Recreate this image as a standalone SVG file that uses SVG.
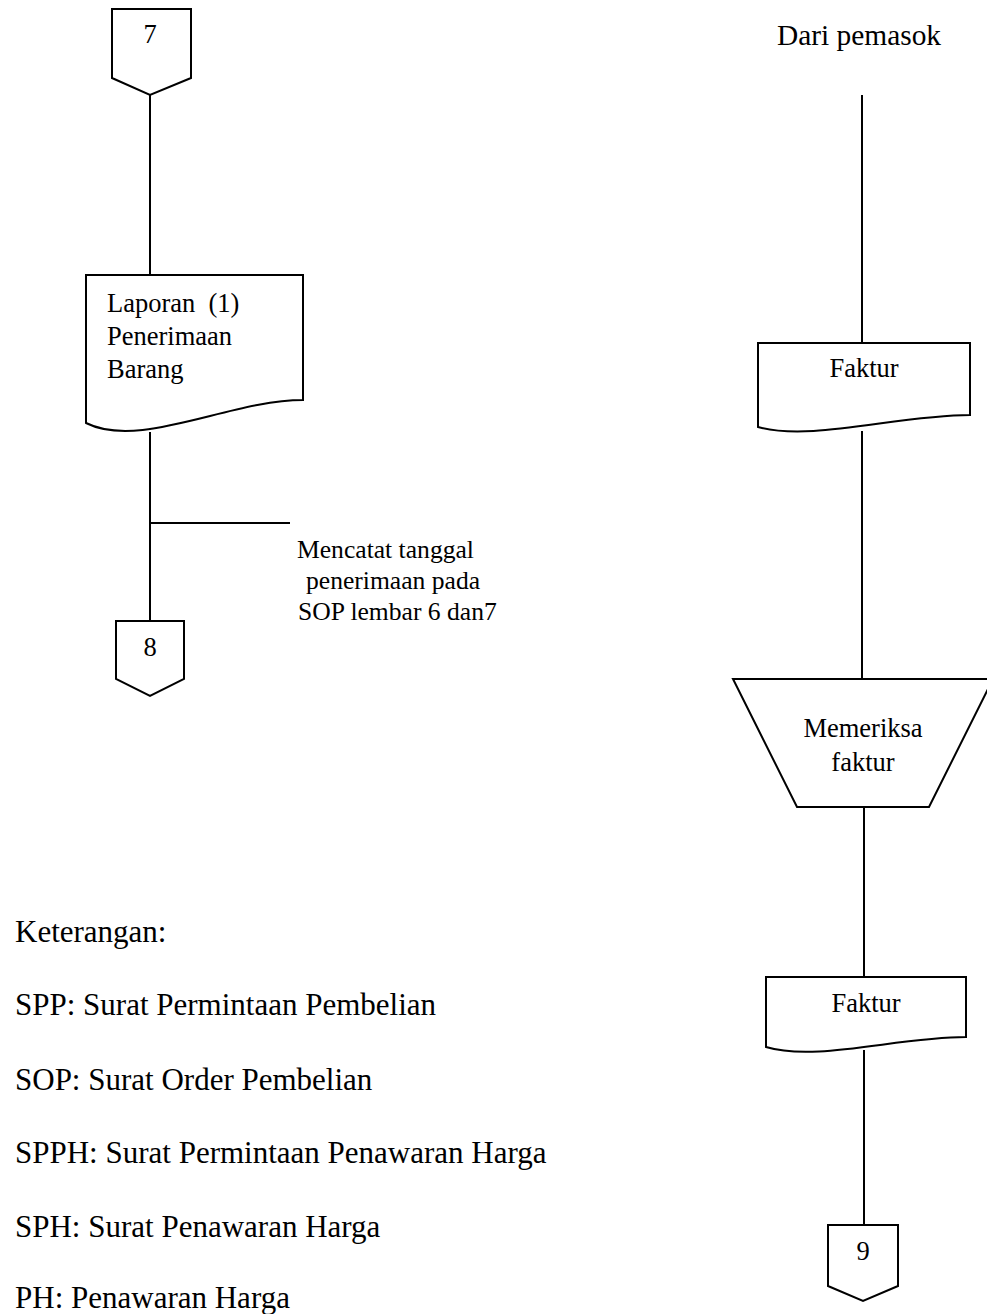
<svg xmlns="http://www.w3.org/2000/svg" width="987" height="1314" viewBox="0 0 987 1314">
  <style>
    .shape { fill: #ffffff; stroke: #000000; stroke-width: 2; stroke-linejoin: miter; }
    .line { fill: none; stroke: #000000; stroke-width: 2; }
    .t { font-family: "Liberation Serif", "Times New Roman", serif; fill: #000000; }
    .box { font-size: 26.5px; }
    .note { font-size: 25.6px; }
    .legend { font-size: 31px; }
    .mid { text-anchor: middle; }
  </style>
  <rect width="987" height="1314" fill="#ffffff"/>

  <!-- flow lines -->
  <g id="connectors">
    <line class="line" x1="150" y1="88" x2="150" y2="275"/>
    <line class="line" x1="150" y1="432" x2="150" y2="621"/>
    <line class="line" x1="150" y1="523" x2="290" y2="523"/>
    <line class="line" x1="862" y1="95" x2="862" y2="343"/>
    <line class="line" x1="862" y1="431" x2="862" y2="679"/>
    <line class="line" x1="864" y1="807" x2="864" y2="977"/>
    <line class="line" x1="864" y1="1050" x2="864" y2="1225"/>
  </g>

  <!-- off-page connector 7 -->
  <g id="conn-7">
    <polygon class="shape" points="112,9 191,9 191,78 150,95 112,78"/>
    <text class="t box mid" x="150" y="43">7</text>
  </g>

  <!-- document: Laporan Penerimaan Barang -->
  <g id="doc-laporan">
    <path class="shape" d="M86,275 H303 V400 C230,400 140,450 86,423 Z"/>
    <text class="t box" x="107" y="312">Laporan&#160; (1)</text>
    <text class="t box" x="107" y="345">Penerimaan</text>
    <text class="t box" x="107" y="378">Barang</text>
  </g>

  <!-- annotation on the branch line -->
  <g id="note-mencatat">
    <text class="t note" x="297" y="558">Mencatat tanggal</text>
    <text class="t note" x="306" y="589">penerimaan pada</text>
    <text class="t note" x="298" y="620">SOP lembar 6 dan7</text>
  </g>

  <!-- off-page connector 8 -->
  <g id="conn-8">
    <polygon class="shape" points="116,621 184,621 184,679 150,696 116,679"/>
    <text class="t box mid" x="150" y="656">8</text>
  </g>

  <!-- source label -->
  <g id="label-pemasok">
    <text class="t" font-size="29.4" x="777" y="45">Dari pemasok</text>
  </g>

  <!-- document: Faktur (from supplier) -->
  <g id="doc-faktur-1">
    <path class="shape" d="M758,343 H970 V415 C898,415 811,442 758,427 Z"/>
    <text class="t box mid" x="864" y="377">Faktur</text>
  </g>

  <!-- manual operation: Memeriksa faktur -->
  <g id="op-memeriksa">
    <polygon class="shape" points="733,679 993,679 929,807 797,807"/>
    <text class="t box mid" x="863" y="737">Memeriksa</text>
    <text class="t box mid" x="863" y="771">faktur</text>
  </g>

  <!-- document: Faktur (checked) -->
  <g id="doc-faktur-2">
    <path class="shape" d="M766,977 H966 V1037 C898,1037 816,1062 766,1047 Z"/>
    <text class="t box mid" x="866" y="1012">Faktur</text>
  </g>

  <!-- off-page connector 9 -->
  <g id="conn-9">
    <polygon class="shape" points="828,1225 898,1225 898,1286 863,1301 828,1286"/>
    <text class="t box mid" x="863" y="1260">9</text>
  </g>

  <!-- legend -->
  <g id="legend">
    <text class="t legend" x="15" y="942">Keterangan:</text>
    <text class="t legend" x="15" y="1015">SPP: Surat Permintaan Pembelian</text>
    <text class="t legend" x="15" y="1090">SOP: Surat Order Pembelian</text>
    <text class="t legend" x="15" y="1163">SPPH: Surat Permintaan Penawaran Harga</text>
    <text class="t legend" x="15" y="1237">SPH: Surat Penawaran Harga</text>
    <text class="t legend" x="15" y="1308">PH: Penawaran Harga</text>
  </g>
</svg>
